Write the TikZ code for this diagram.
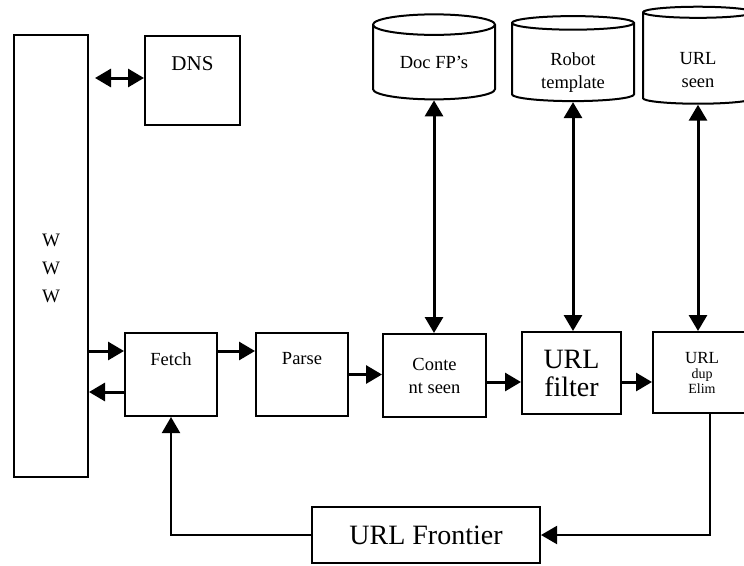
\documentclass[tikz,border=0pt]{standalone}
\usepackage{fontspec}
\setmainfont{Liberation Serif}
\usetikzlibrary{shapes.geometric,arrows.meta}
\tikzset{
  block/.style={draw,line width=2pt,inner sep=0pt,align=center,font=\fontsize{18.5}{23}\selectfont},
  store/.style={cylinder,shape border rotate=90,aspect=0.3,draw,line width=2pt,inner sep=0pt,align=center,font=\fontsize{18.5}{23}\selectfont},
  toplabel/.style={inner sep=0pt,font=\fontsize{18.5}{23}\selectfont},
  dbtext/.style={inner sep=0pt,align=center,font=\fontsize{18.5}{23}\selectfont},
  arr/.style={line width=3pt,-{Triangle[length=16pt,width=18pt]}},
  dblarr/.style={line width=3pt,{Triangle[length=16pt,width=18pt]}-{Triangle[length=16pt,width=18pt]}},
}
\begin{document}
\begin{tikzpicture}[x=1pt,y=-1pt]
\useasboundingbox (0,0) rectangle (744,565);
% left side
\node[block,minimum width=74pt,minimum height=442pt] (www) at (51,256) {};
\node[align=center,font=\fontsize{19}{28}\selectfont] (wwwtext) at ([yshift=-12pt]www.center) {W\\W\\W};
\node[block,minimum width=95pt,minimum height=89pt,
  label={[toplabel,below=21pt,font=\fontsize{21}{25}\selectfont]north:DNS}] (dns) at (192.5,80.5) {};
% stores
\node[store,minimum width=122pt,minimum height=85pt] (docfp) at (434,62.5) {Doc FP's};
\node[store,minimum width=122pt,minimum height=85pt,
  label={[dbtext,yshift=-10pt]center:{Robot\\template}}] (robot) at (573,62.5) {\phantom{Robot}};
\node[store,minimum width=110pt,minimum height=97pt,
  label={[dbtext,yshift=-12pt]center:{URL\\seen}}] (seen) at (698,58.5) {\phantom{URL}};
% pipeline
\node[block,minimum width=92pt,minimum height=83pt,label={[toplabel,below=20pt]north:Fetch}] (fetch) at (171,374.5) {};
\node[block,minimum width=92pt,minimum height=83pt,label={[toplabel,below=20.5pt]north:Parse}] (parse) at (302,374.5) {};
\node[block,minimum width=103pt,minimum height=83pt] (content) at (434.5,375.5) {Conte\\nt seen};
\node[block,minimum width=99pt,minimum height=82pt,font=\fontsize{28}{28}\selectfont] (filter) at (571.5,373) {URL\\filter};
\node[block,minimum width=98pt,minimum height=81pt,font=\fontsize{14}{15}\selectfont] (dup) at (702,372.5) {{\fontsize{17}{15}\selectfont URL}\\dup\\Elim};
\node[block,minimum width=228pt,minimum height=56pt,font=\fontsize{28}{30}\selectfont] (frontier) at (426,535) {URL Frontier};
% connectors
\coordinate (dn) at ([yshift=2.5pt]dns.west);
\draw[dblarr,shorten >=6pt] (dn) -- (dn -| www.east);
\coordinate (fin) at ([yshift=23.5pt]fetch.west);
\coordinate (fout) at ([yshift=-17.5pt]fetch.west);
\draw[arr] (fin -| www.east) -- (fin);
\draw[arr] (fout) -- (fout -| www.east);
\coordinate (fp) at ([yshift=23.5pt]fetch.east);
\draw[arr] (fp) -- (fp -| parse.west);
\draw[arr] (parse.east) -- (parse.east -| content.west);
\coordinate (cf) at ([yshift=-6.5pt]content.east);
\draw[arr] (cf) -- (cf -| filter.west);
\coordinate (fd) at ([yshift=-9pt]filter.east);
\draw[arr] (fd) -- (fd -| dup.west);
\draw[dblarr] (docfp.south) -- (docfp.south |- content.north);
\draw[dblarr] (robot.south) -- (robot.south |- filter.north);
\draw[dblarr] (seen.south) -- (seen.south |- dup.north);
\draw[arr,line width=2pt] ([xshift=8pt]dup.south) |- (frontier.east);
\draw[arr,line width=2pt] (frontier.west) -| (fetch.south);
\end{tikzpicture}
\end{document}
